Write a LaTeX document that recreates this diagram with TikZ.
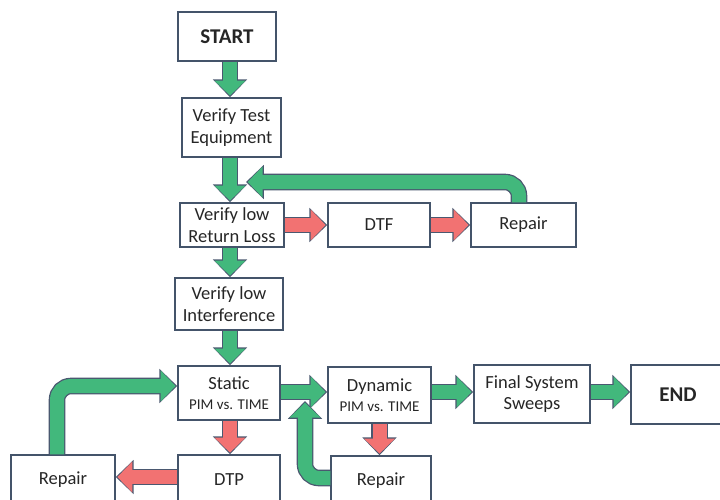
\documentclass[tikz,border=0pt]{standalone}
\usepackage{fontspec}
\setmainfont{Carlito}
\usetikzlibrary{arrows.meta,calc}
\definecolor{gfill}{RGB}{66,184,124}
\definecolor{rfill}{RGB}{242,114,114}
\definecolor{aline}{RGB}{74,88,112}
\definecolor{bline}{RGB}{68,84,106}
\tikzset{
  box/.style={draw=bline, line width=1.5pt, fill=white, inner sep=0pt, align=center,
    font=\fontsize{18.5}{21.5}\selectfont, text=black!85},
  blockarrow/.style={
    preaction={draw=aline, line width=16.6pt, shorten >=0pt, -{Triangle[width=33pt,length=17.8pt]}},
    draw=#1, line width=14pt, shorten >=1.6pt, -{Triangle[width=30pt,length=15pt]}},
  garrow/.style={blockarrow=gfill},
  rarrow/.style={blockarrow=rfill},
}
\begin{document}
\begin{tikzpicture}[x=1pt,y=-1pt]
\useasboundingbox[fill=white] (0,0) rectangle (720,499);
% nodes
\node[box, minimum width=98pt, minimum height=49pt, font=\fontsize{21}{24}\selectfont\bfseries] (start) at (227,36.5) {START};
\node[box, minimum width=99pt, minimum height=59pt] (vte) at (231.5,127.5) {Verify Test\\Equipment};
\node[box, minimum width=104pt, minimum height=44pt] (vrl) at (232,225) {Verify low\\Return Loss};
\node[box, minimum width=102pt, minimum height=44pt] (dtf) at (379,225) {DTF};
\node[box, minimum width=105pt, minimum height=44pt] (rep1) at (523.5,225) {Repair};
\node[box, minimum width=108pt, minimum height=52pt] (vli) at (229,304) {Verify low\\Interference};
\node[box, minimum width=102pt, minimum height=54pt] (stat) at (229,393) {Static\\[-2pt]{\fontsize{15}{17}\selectfont PIM vs. TIME}};
\node[box, minimum width=103pt, minimum height=56pt] (dyn) at (379.5,395) {Dynamic\\[-2pt]{\fontsize{15}{17}\selectfont PIM vs. TIME}};
\node[box, minimum width=116pt, minimum height=58pt] (fss) at (532,394) {Final System\\Sweeps};
\node[box, minimum width=94pt, minimum height=59pt, font=\fontsize{21}{24}\selectfont\bfseries] (end) at (678,394.5) {END};
\node[box, minimum width=102pt, minimum height=50pt] (dtp) at (229,480) {DTP};
\node[box, minimum width=104pt, minimum height=50pt] (rep2) at (63,480) {Repair};
\node[box, minimum width=100pt, minimum height=50pt] (rep3) at (381,481) {Repair};
% helper coordinates
\coordinate (colx) at (230,0);
\coordinate (rowy) at (0,392);
\coordinate (fbx) at (519,0);
\coordinate (tipA) at (246,182);
\coordinate (r3y) at (0,478);
\coordinate (tipB) at (305,401);
\coordinate (r2y) at (0,477);
\coordinate (fb3x) at (57,0);
\coordinate (r4y) at (0,386);
% arrows
\draw[garrow] (start.south -| colx) -- (vte.north -| colx);
\draw[garrow] (vte.south -| colx) -- (vrl.north -| colx);
\draw[garrow, rounded corners=14pt] (rep1.north -| fbx) |- (tipA);
\draw[rarrow] (vrl.east) -- (dtf.west);
\draw[rarrow] (dtf.east) -- (rep1.west);
\draw[garrow] (vrl.south -| colx) -- (vli.north -| colx);
\draw[garrow] (vli.south -| colx) -- (stat.north -| colx);
\draw[garrow] (stat.east |- rowy) -- (dyn.west |- rowy);
\draw[garrow] (dyn.east |- rowy) -- (fss.west |- rowy);
\draw[garrow] (fss.east |- rowy) -- (end.west |- rowy);
\draw[rarrow] (stat.south -| colx) -- (dtp.north -| colx);
\draw[rarrow] (dyn.south) -- (dyn.south |- rep3.north);
\draw[rarrow] (dtp.west |- r2y) -- (rep2.east |- r2y);
\draw[garrow, rounded corners=14pt] (rep3.west |- r3y) -| (tipB);
\draw[garrow, rounded corners=14pt] (rep2.north -| fb3x) |- (stat.west |- r4y);
\end{tikzpicture}
\end{document}
